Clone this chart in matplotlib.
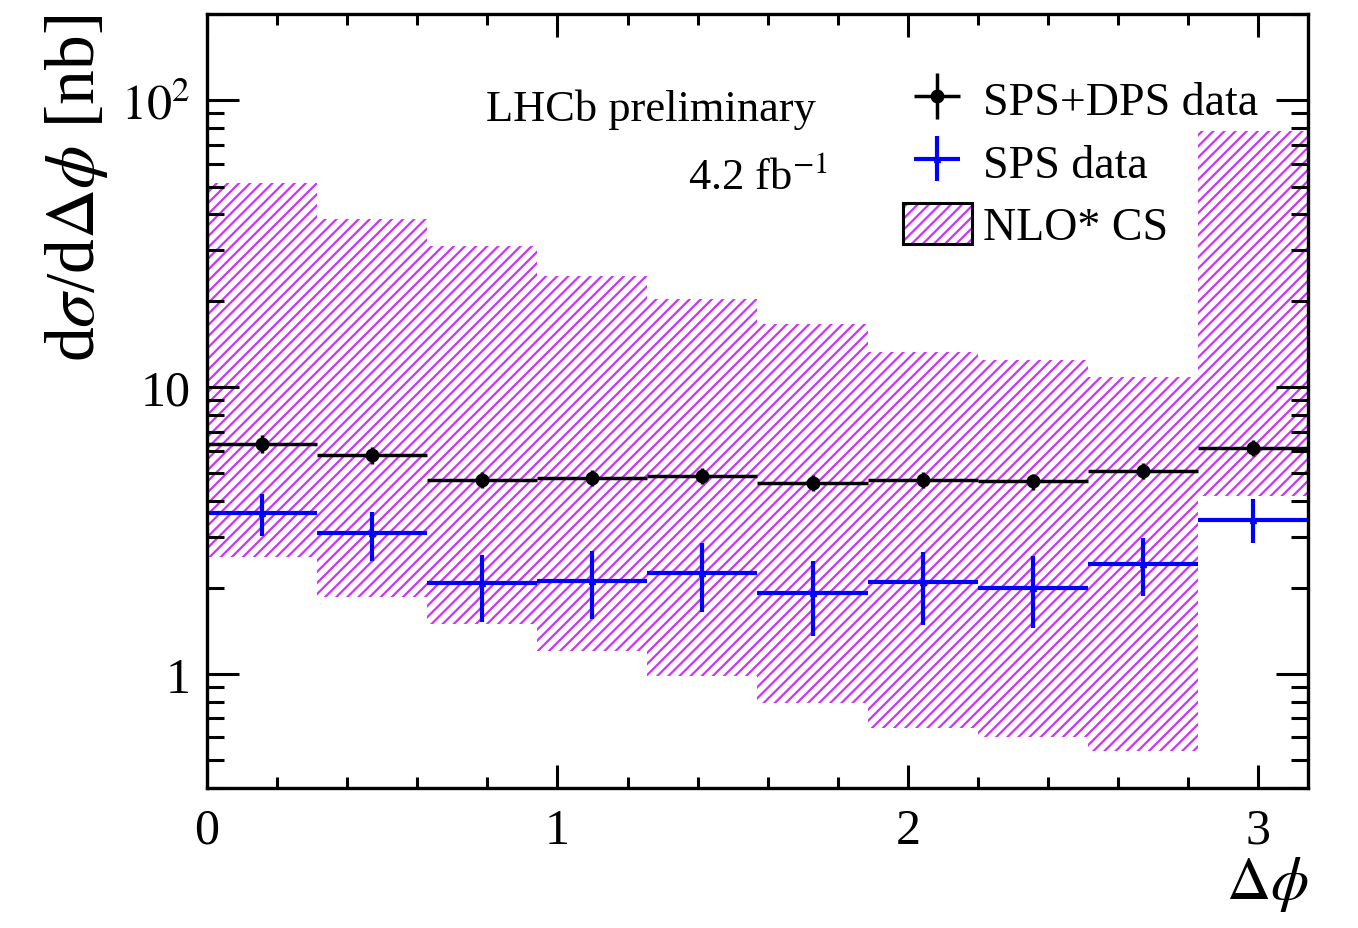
import numpy as np
import matplotlib
matplotlib.use("Agg")
import matplotlib.pyplot as plt
from matplotlib.patches import Patch
from matplotlib.ticker import FixedLocator, FixedFormatter, NullFormatter, MultipleLocator

# bin edges in delta phi (10 bins from 0 to pi)
edges = [0.0, 0.3142, 0.6283, 0.9425, 1.2566, 1.5708, 1.8850, 2.1991, 2.5133, 2.8274, 3.1416]

# SPS+DPS data
spsdps = [6.33, 5.80, 4.74, 4.82, 4.90, 4.63, 4.74, 4.69, 5.10, 6.13]
spsdps_err = [0.45, 0.40, 0.30, 0.30, 0.32, 0.30, 0.30, 0.30, 0.32, 0.40]

# SPS data (asymmetric errors)
sps = [3.64, 3.10, 2.08, 2.11, 2.25, 1.92, 2.09, 1.99, 2.42, 3.44]
sps_up = [4.24, 3.66, 2.60, 2.68, 2.86, 2.47, 2.66, 2.58, 2.97, 4.07]
sps_lo = [3.03, 2.47, 1.52, 1.55, 1.64, 1.35, 1.48, 1.44, 1.87, 2.86]

# NLO* CS theory band
nlo_hi = [51.4, 38.5, 31.0, 24.4, 20.3, 16.6, 13.3, 12.4, 10.8, 78.0]
nlo_lo = [2.56, 1.85, 1.49, 1.20, 0.98, 0.79, 0.65, 0.60, 0.54, 4.17]

plt.rcParams['font.family'] = ['Liberation Serif', 'DejaVu Serif']
plt.rcParams['mathtext.fontset'] = 'stix'
plt.rcParams['hatch.linewidth'] = 1.6

magenta = '#cc33ff'

e = np.array(edges)
centers = 0.5 * (e[:-1] + e[1:])
halfw = 0.5 * (e[1:] - e[:-1])
hi = np.array(nlo_hi)
lo = np.array(nlo_lo)

fig = plt.figure(figsize=(13.58, 9.29), dpi=100)
ax = fig.add_axes([0.1524, 0.1507, 0.8108, 0.8332])

# theory band
ax.bar(e[:-1], hi - lo, bottom=lo, width=e[1:] - e[:-1], align='edge',
       facecolor='none', edgecolor=magenta, hatch='///', linewidth=0)

# data
h1 = ax.errorbar(centers, spsdps, xerr=halfw, yerr=spsdps_err, fmt='o',
                 color='black', ms=9, lw=2.5, capsize=0)
yerr_sps = [np.array(sps) - np.array(sps_lo), np.array(sps_up) - np.array(sps)]
h2 = ax.errorbar(centers, sps, xerr=halfw, yerr=yerr_sps, fmt='^',
                 color='#0000ff', ms=5, lw=3, capsize=0)

ax.set_yscale('log')
ax.set_xlim(0, np.pi)
ax.set_ylim(0.4, 200)

ax.yaxis.set_major_locator(FixedLocator([1, 10, 100]))
ax.yaxis.set_major_formatter(FixedFormatter(['1', '10', '$10^2$']))
ax.yaxis.set_minor_locator(FixedLocator([0.4, 0.5, 0.6, 0.7, 0.8, 0.9,
                                         2, 3, 4, 5, 6, 7, 8, 9,
                                         20, 30, 40, 50, 60, 70, 80, 90, 200]))
ax.yaxis.set_minor_formatter(NullFormatter())
ax.xaxis.set_major_locator(MultipleLocator(1))
ax.xaxis.set_minor_locator(MultipleLocator(0.2))

ax.tick_params(which='both', direction='in', top=True, right=True, width=2.2)
ax.tick_params(axis='x', which='major', length=16.5, labelsize=36, pad=14)
ax.tick_params(axis='x', which='minor', length=8)
ax.tick_params(axis='y', which='major', length=23, labelsize=36, pad=12)
ax.tick_params(axis='y', which='minor', length=12)
for s in ax.spines.values():
    s.set_linewidth(2.4)

ax.set_ylabel(r'd$\sigma$/d$\Delta\phi$ [nb]', fontsize=50)
ax.yaxis.set_label_coords(-0.088, 1.0)
ax.yaxis.label.set_ha('right')
ax.set_xlabel(r'$\Delta\phi$', fontsize=44)
ax.xaxis.set_label_coords(1.0, -0.085)
ax.xaxis.label.set_ha('right')

ax.text(0.403, 0.877, 'LHCb preliminary', transform=ax.transAxes,
        fontsize=32, ha='center', va='center')
ax.text(0.564, 0.79, r'4.2 fb$^{-1}$', transform=ax.transAxes,
        fontsize=32, ha='right', va='center')

band_handle = (Patch(facecolor='none', edgecolor=magenta, hatch='///', linewidth=0),
               Patch(facecolor='none', edgecolor='black', linewidth=2.2))
ax.legend([h1, h2, band_handle], ['SPS+DPS data', 'SPS data', 'NLO* CS'],
          loc='upper left', bbox_to_anchor=(0.632, 0.917), frameon=False,
          fontsize=33, handlelength=1.5, handleheight=1.0, handletextpad=0.25,
          labelspacing=0.35, borderaxespad=0.0, borderpad=0.0)

fig.savefig('out.png', dpi=100)
